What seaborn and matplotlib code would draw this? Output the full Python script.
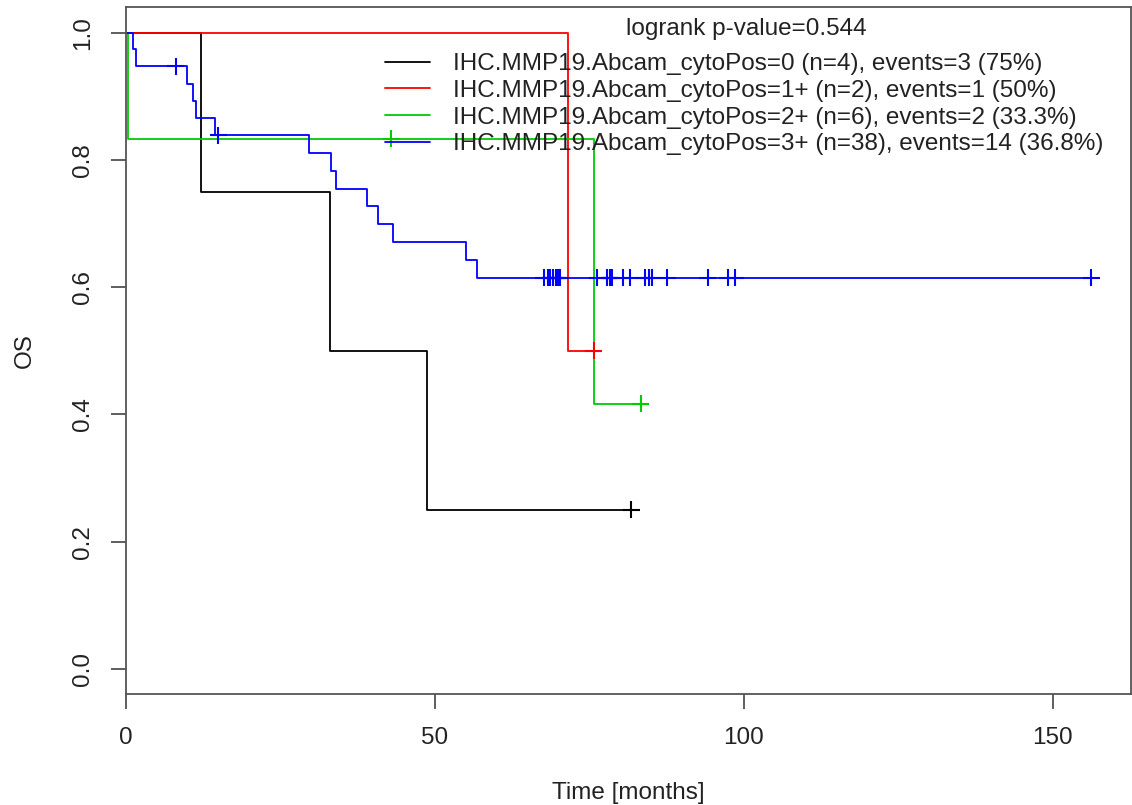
import numpy as np
import pandas as pd
import matplotlib
matplotlib.use("Agg")
import matplotlib.pyplot as plt
from matplotlib.lines import Line2D
import seaborn as sns

# ---- data ----
groups = ["IHC.MMP19.Abcam_cytoPos=0", "IHC.MMP19.Abcam_cytoPos=1+",
          "IHC.MMP19.Abcam_cytoPos=2+", "IHC.MMP19.Abcam_cytoPos=3+"]
legend_labels = [
    "IHC.MMP19.Abcam_cytoPos=0 (n=4), events=3 (75%)",
    "IHC.MMP19.Abcam_cytoPos=1+ (n=2), events=1 (50%)",
    "IHC.MMP19.Abcam_cytoPos=2+ (n=6), events=2 (33.3%)",
    "IHC.MMP19.Abcam_cytoPos=3+ (n=38), events=14 (36.8%)",
]
colors = ["black", "red", "#00CC00", "blue"]
pvalue_text = "logrank p-value=0.544"

# step times (months) and survival after each step (first entry = start)
g0_times = [0, 12.2, 33.1, 48.8]
g0_surv = [1.0, 0.75, 0.50, 0.25]
g0_end = 81.8
g0_censor = [81.8]

g1_times = [0, 71.5]
g1_surv = [1.0, 0.50]
g1_end = 75.7
g1_censor = [75.7]

g2_times = [0, 0.4, 75.8]
g2_surv = [1.0, 0.833, 0.417]
g2_end = 83.3
g2_censor = [43.0, 83.3]

g3_times = [0, 1.2, 1.7, 9.9, 10.9, 11.4, 14.4, 29.7, 33.2, 34.1, 39.1,
            40.8, 43.3, 55.1, 56.8]
g3_surv = [1.0, 0.974, 0.947, 0.920, 0.893, 0.866, 0.839, 0.811, 0.783,
           0.755, 0.727, 0.699, 0.671, 0.643, 0.615]
g3_end = 156.2
g3_censor = [8.1, 15.0, 67.6, 68.3, 68.7, 69.2, 69.6, 69.9, 70.0, 70.2,
             76.3, 77.9, 78.3, 78.6, 80.4, 81.6, 84.0, 84.6, 85.2, 87.6,
             94.2, 97.4, 98.6, 156.2]

all_times = [g0_times, g1_times, g2_times, g3_times]
all_surv = [g0_surv, g1_surv, g2_surv, g3_surv]
all_end = [g0_end, g1_end, g2_end, g3_end]
all_cens = [g0_censor, g1_censor, g2_censor, g3_censor]

# ---- build tables ----
step_rows, cens_rows = [], []
for g, t, s, e, c in zip(groups, all_times, all_surv, all_end, all_cens):
    tt = list(t) + [e]
    ss = list(s) + [s[-1]]
    for ti, si in zip(tt, ss):
        step_rows.append((g, ti, si))
    for ci in c:
        idx = np.searchsorted(np.array(t), ci, side="right") - 1
        cens_rows.append((g, ci, s[idx]))
steps = pd.DataFrame(step_rows, columns=["group", "time", "surv"])
cens = pd.DataFrame(cens_rows, columns=["group", "time", "surv"])

# ---- style ----
sns.set_theme(style="white")
plt.rcParams["font.family"] = ["Liberation Sans", "DejaVu Sans"]
FS = 17.5
TXT = "#222222"

W, H = 1132, 805
fig = plt.figure(figsize=(W / 100, H / 100), dpi=100)
ax_l, ax_r, ax_t, ax_b = 125.7, 1130.7, 7.3, 694.3
ax = fig.add_axes([ax_l / W, (H - ax_b) / H, (ax_r - ax_l) / W,
                   (ax_b - ax_t) / H])

palette = dict(zip(groups, colors))
for g in groups:
    sub = steps[steps.group == g]
    sns.lineplot(data=sub, x="time", y="surv", color=palette[g],
                 drawstyle="steps-post", estimator=None, sort=False,
                 linewidth=1.3, ax=ax, legend=False)
sns.scatterplot(data=cens, x="time", y="surv", hue="group", palette=palette,
                marker="+", s=150, linewidth=1.5, ax=ax, legend=False,
                zorder=3)

ax.set_xlim(0, 162.6)
ax.set_ylim(-0.04, 1.04)
ax.set_xticks([0, 50, 100, 150])
ax.set_yticks([0.0, 0.2, 0.4, 0.6, 0.8, 1.0])
ax.set_xticklabels(["0", "50", "100", "150"])
ax.set_yticklabels(["0.0", "0.2", "0.4", "0.6", "0.8", "1.0"], rotation=90,
                   va="center")
ax.tick_params(axis="both", which="major", bottom=True, left=True,
               direction="out", length=10.8, width=1.1, color="#333333",
               labelsize=FS, labelcolor=TXT)
ax.tick_params(axis="x", pad=12.5)
ax.tick_params(axis="y", pad=12)
for sp in ax.spines.values():
    sp.set_color("#555555")
    sp.set_linewidth(1.3)
ax.set_xlabel("Time [months]", fontsize=FS, color=TXT, labelpad=24)
ax.set_ylabel("OS", fontsize=FS, color=TXT, labelpad=26)

handles = [Line2D([0], [0], color=c, lw=1.3) for c in colors]
leg = ax.legend(handles, legend_labels, loc="upper left",
                bbox_to_anchor=((385 - ax_l) / (ax_r - ax_l),
                                1 - (53 - ax_t) / (ax_b - ax_t)),
                frameon=False, fontsize=FS, handlelength=1.85,
                handletextpad=0.95, labelspacing=0.195, borderpad=0.0,
                borderaxespad=0.0)
for t in leg.get_texts():
    t.set_color(TXT)
ax.text((746 - ax_l) / (ax_r - ax_l), 1 - (35 - ax_t) / (ax_b - ax_t),
        pvalue_text, fontsize=FS, color=TXT, ha="center", va="baseline",
        transform=ax.transAxes)

fig.savefig("out.png", dpi=100)
